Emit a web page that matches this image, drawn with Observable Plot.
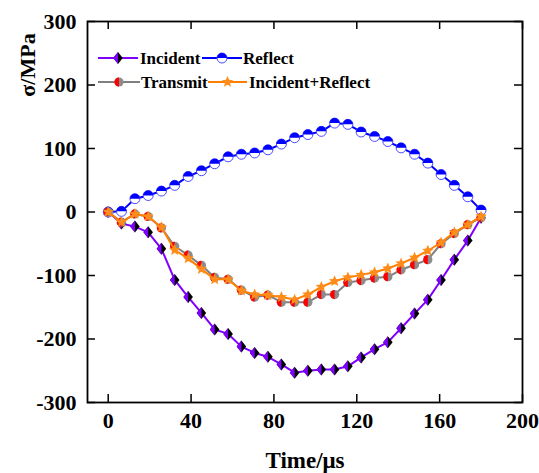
<!DOCTYPE html>
<html><head><meta charset="utf-8">
<script src="https://cdn.jsdelivr.net/npm/d3@7"></script>
<script src="https://cdn.jsdelivr.net/npm/@observablehq/plot@0.6"></script>
<style>body{margin:0;background:#fff} svg{display:block}</style>
</head><body><div id="chart"></div>
<script>
const times = [0, 6.4, 12.9, 19.3, 25.7, 32.1, 38.6, 45, 51.4, 57.9, 64.3, 70.7, 77.1, 83.6, 90, 96.4, 102.9, 109.3, 115.7, 122.1, 128.6, 135, 141.4, 147.9, 154.3, 160.7, 167.1, 173.6, 180];
const incident = [0, -18, -23, -32, -58, -107, -134, -159, -185, -192, -212, -222, -228, -240, -253, -250, -248, -248, -243, -229, -216, -205, -183, -160, -138, -107, -75, -45, -9];
const reflect = [0, 1, 21, 26, 33, 42, 56, 65, 76, 87, 91, 93, 98, 107, 117, 122, 127, 140, 138, 126, 119, 111, 101, 91, 77, 59, 42, 24, 3];
const transmit = [0, -16, -3, -7, -25, -54, -68, -84, -103, -106, -123, -134, -131, -142, -142, -142, -130, -130, -111, -108, -104, -102, -91, -83, -75, -50, -34, -20, -9];
const incidentReflect = [0, -16, -3, -7, -24, -60, -73, -90, -106, -106, -124, -130, -131, -134, -138, -130, -118, -109, -103, -99, -95, -89, -81, -72, -61, -48, -32, -20, -7];
const seriesNames = ["Incident", "Reflect", "Transmit", "Incident+Reflect"];
const xTicks = [0, 40, 80, 120, 160, 200];
const yTicks = [-300, -200, -100, 0, 100, 200, 300];
const xTitle = "Time/\u03bcs";
const yTitle = "\u03c3/MPa";

const FONT = "'Liberation Serif', 'Times New Roman', serif";
const rad = s => Math.sqrt(s / Math.PI);
const diamondFull = {draw(c, s) {const r = rad(s), w = r * 0.95, h = r * 1.2; c.moveTo(0, -h); c.lineTo(w, 0); c.lineTo(0, h); c.lineTo(-w, 0); c.closePath();}};
const diamondLeft = {draw(c, s) {const r = rad(s), w = r * 0.95, h = r * 1.2; c.moveTo(0, -h); c.lineTo(0, h); c.lineTo(-w, 0); c.closePath();}};
const circleFull = {draw(c, s) {const r = rad(s); c.moveTo(r, 0); c.arc(0, 0, r, 0, 2 * Math.PI);}};
const circleTop = {draw(c, s) {const r = rad(s); c.moveTo(-r, 0); c.arc(0, 0, r, Math.PI, 2 * Math.PI); c.closePath();}};
const circleLeft = {draw(c, s) {const r = rad(s); c.moveTo(0, r); c.arc(0, 0, r, Math.PI / 2, 3 * Math.PI / 2); c.closePath();}};
const star = {draw(c, s) {const r = rad(s), ri = r * 0.45; for (let k = 0; k < 10; k++) {const a = -Math.PI / 2 + k * Math.PI / 5, rr = k % 2 ? ri : r; const x = rr * Math.cos(a), y = rr * Math.sin(a); if (k) c.lineTo(x, y); else c.moveTo(x, y);} c.closePath();}};

const specs = [
  {name: seriesNames[0], vals: incident, color: "#8000ff", r: 5,
   layers: [{sym: diamondFull, fill: "#000"}, {sym: diamondLeft, fill: "#8000ff"}]},
  {name: seriesNames[1], vals: reflect, color: "#0000ff", r: 5,
   layers: [{sym: circleFull, fill: "#fff", stroke: "#4b4bff"}, {sym: circleTop, fill: "#0000ff"}]},
  {name: seriesNames[2], vals: transmit, color: "#808080", r: 4.6,
   layers: [{sym: circleFull, fill: "#8c8c8c"}, {sym: circleLeft, fill: "#ff0000"}]},
  {name: seriesNames[3], vals: incidentReflect, color: "#ff8000", r: 6,
   layers: [{sym: star, fill: "#ff8c1a"}]}
];

const marks = [];
const tickStyle = {stroke: "black", strokeOpacity: 1, strokeWidth: 1.5};
marks.push(Plot.gridX({ticks: xTicks, ...tickStyle, insetTop: 373}));
marks.push(Plot.gridX({ticks: xTicks, ...tickStyle, insetBottom: 373}));
marks.push(Plot.gridY({ticks: yTicks, ...tickStyle, insetRight: 427}));
marks.push(Plot.gridY({ticks: yTicks, ...tickStyle, insetLeft: 427}));
marks.push(Plot.axisX({ticks: xTicks, tickSize: 0, tickPadding: 10, fontSize: 22, fontWeight: "bold", label: null, tickFormat: d => String(d)}));
marks.push(Plot.axisY({ticks: yTicks, tickSize: 0, tickPadding: 11, fontSize: 22, fontWeight: "bold", label: null, tickFormat: d => String(d)}));
for (const s of specs) {
  const rows = times.map((t, i) => ({t, v: s.vals[i]}));
  marks.push(Plot.line(rows, {x: "t", y: "v", stroke: s.color, strokeWidth: 2}));
  for (const L of s.layers) {
    marks.push(Plot.dot(rows, {x: "t", y: "v", symbol: L.sym, r: s.r, fill: L.fill, stroke: L.stroke || "none", strokeWidth: 1}));
  }
}
marks.push(Plot.frame({stroke: "black", strokeWidth: 1.8}));
marks.push(Plot.text([xTitle], {frameAnchor: "bottom", dy: 58, fontSize: 23, fontWeight: "bold", fill: "black", textAnchor: "middle", lineAnchor: "middle"}));

const svg = Plot.plot({
  width: 539, height: 473,
  marginLeft: 87, marginRight: 17, marginTop: 21, marginBottom: 71,
  x: {domain: [-10, 200]},
  y: {domain: [-300, 300]},
  style: {fontFamily: FONT, background: "white", color: "black", overflow: "visible"},
  marks
});

const g = d3.select(svg).append("g").attr("font-family", FONT).attr("text-anchor", "start");
// y-axis title
g.append("text").attr("transform", "translate(27,65) rotate(-90)").attr("text-anchor", "middle")
  .attr("dy", "0.35em").attr("font-size", 22).attr("font-weight", "bold").attr("fill", "black").text(yTitle);
// legend
const legendPos = [
  {x1: 98, x2: 138, y: 58, tx: 140},
  {x1: 202, x2: 242, y: 58, tx: 243},
  {x1: 98, x2: 140, y: 82, tx: 141},
  {x1: 208, x2: 247, y: 82, tx: 249}
];
specs.forEach((s, i) => {
  const p = legendPos[i];
  g.append("line").attr("x1", p.x1).attr("x2", p.x2).attr("y1", p.y).attr("y2", p.y)
    .attr("stroke", s.color).attr("stroke-width", 2);
  const cx = (p.x1 + p.x2) / 2;
  for (const L of s.layers) {
    g.append("path").attr("d", d3.symbol(L.sym, Math.PI * s.r * s.r)())
      .attr("transform", `translate(${cx},${p.y})`)
      .attr("fill", L.fill).attr("stroke", L.stroke || "none").attr("stroke-width", 1);
  }
  g.append("text").attr("x", p.tx).attr("y", p.y).attr("dy", "0.35em").attr("text-anchor", "start")
    .attr("font-size", 17).attr("font-weight", "bold").attr("fill", "black").text(s.name);
});
document.getElementById("chart").appendChild(svg);
</script>
</body></html>
